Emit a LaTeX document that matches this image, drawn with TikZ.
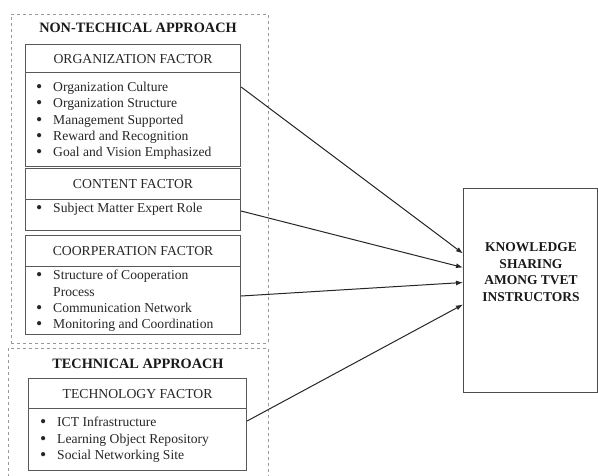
\documentclass[tikz,border=0pt]{standalone}
\usepackage{fontspec}
\setmainfont{Liberation Serif}
\usetikzlibrary{arrows.meta,calc}
\newcommand\itembul{\makebox[17pt][l]{\smash{\raisebox{-1pt}{\scalebox{1.3}{\textbullet}}}}}
\begin{document}
\begin{tikzpicture}[x=1pt,y=-1pt,
  approach/.style={draw=black!40, dashed, line width=0.8pt, inner sep=0pt, anchor=north west},
  factorbox/.style={draw=black!65, line width=1.1pt, inner sep=0pt, anchor=north west},
  headtext/.style={font=\fontsize{13.7}{16}\selectfont, text=black!85},
  titletext/.style={font=\bfseries\fontsize{14.3}{16}\selectfont, text=black!90},
  itemtext/.style={font=\fontsize{13.6}{16.3}\selectfont, align=left, anchor=north west, inner sep=0pt, text=black!85},
  knowbox/.style={draw=black!70, line width=1pt, inner sep=0pt, anchor=north west},
  knowtext/.style={font=\bfseries\fontsize{13.5}{16.5}\selectfont, align=center, text=black!90},
  link/.style={draw=black!85, line width=1pt, -{Latex[length=7pt,width=5pt]}}
]
\useasboundingbox (0,0) rectangle (598,475);

% approach frames
\node[approach, minimum width=257pt, minimum height=329pt] (nontech) at (11,14) {};
\node[approach, minimum width=260pt, minimum height=134pt] (tech) at (8,348) {};
\node[titletext] (nontechtitle) at (138,28) {NON-TECHICAL APPROACH};
\node[titletext] (techtitle) at (138,364) {TECHNICAL APPROACH};

% organization factor
\node[factorbox, minimum width=215pt, minimum height=28pt, headtext] (orghead) at (25,44) {ORGANIZATION FACTOR};
\node[factorbox, minimum width=215pt, minimum height=94pt] (orgbody) at (25,72) {};
\node[itemtext] (orgitems) at (36,82) {\itembul Organization Culture\\
\itembul Organization Structure\\
\itembul Management Supported\\
\itembul Reward and Recognition\\
\itembul Goal and Vision Emphasized};

% content factor
\node[factorbox, minimum width=215pt, minimum height=31pt, headtext] (conthead) at (25,168) {CONTENT FACTOR};
\node[factorbox, minimum width=215pt, minimum height=31pt] (contbody) at (25,199) {};
\node[itemtext] (contitems) at (36,203) {\itembul Subject Matter Expert Role};

% cooperation factor
\node[factorbox, minimum width=215pt, minimum height=31pt, headtext] (coophead) at (25,235) {COORPERATION FACTOR};
\node[factorbox, minimum width=215pt, minimum height=68pt] (coopbody) at (25,266) {};
\node[itemtext] (coopitems) at (36,270) {\itembul Structure of Cooperation\\
\hspace*{17pt}Process\\
\itembul Communication Network\\
\itembul Monitoring and Coordination};

% technology factor
\node[factorbox, minimum width=218pt, minimum height=30pt, headtext] (techhead) at (28,378) {TECHNOLOGY FACTOR};
\node[factorbox, minimum width=218pt, minimum height=62pt] (techbody) at (28,408) {};
\node[itemtext] (techitems) at (40,417) {\itembul ICT Infrastructure\\
\itembul Learning Object Repository\\
\itembul Social Networking Site};

% knowledge sharing
\node[knowbox, minimum width=134pt, minimum height=204pt] (know) at (463,188) {};
\node[knowtext] (knowlabel) at (531,272) {KNOWLEDGE\\SHARING\\AMONG TVET\\INSTRUCTORS};

% links
\draw[link] ([yshift=-15pt]orgbody.north east) -- ([yshift=37pt]know.west);
\draw[link] ([yshift=-12pt]contbody.north east) -- ([yshift=23pt]know.west);
\draw[link] ([yshift=-30pt]coopbody.north east) -- ([yshift=8pt]know.west);
\draw[link] ([yshift=-13pt]techbody.north east) -- ([yshift=-14pt]know.west);
\end{tikzpicture}
\end{document}
